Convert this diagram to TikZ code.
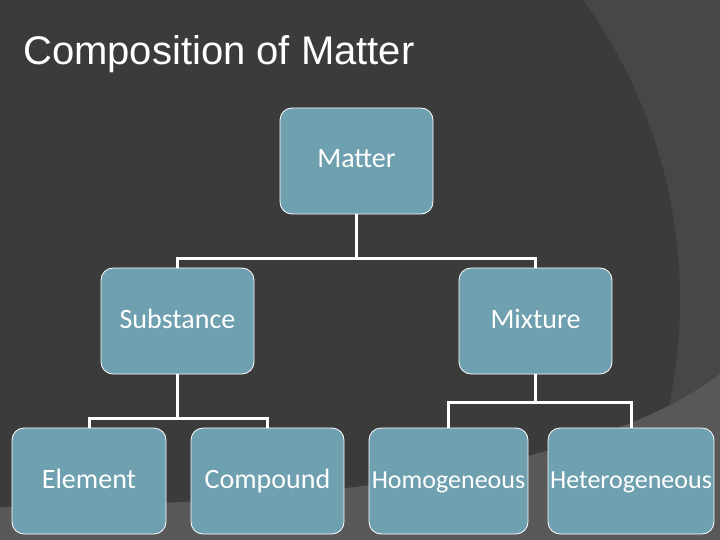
\documentclass[tikz,border=0pt]{standalone}
\usepackage{fontspec}
\setmainfont{Carlito}
\newfontfamily\titlefont{Liberation Sans}
\definecolor{bgdark}{RGB}{59,59,59}
\definecolor{bgmid}{RGB}{71,71,71}
\definecolor{bglight}{RGB}{88,88,88}
\definecolor{boxfill}{RGB}{111,160,175}
\tikzset{
  orgbox/.style={rectangle, rounded corners=12pt, draw=white, line width=0.8pt,
    fill=boxfill, text=white, inner sep=0pt, minimum height=106pt,
    text height=18pt, text depth=4pt,
    font=\fontsize{28}{32}\selectfont},
  smalltext/.style={font=\fontsize{26}{30}\selectfont, text height=17pt, text depth=3pt},
  link/.style={draw=white, line width=3pt}
}
\begin{document}
\begin{tikzpicture}[x=1pt,y=-1pt]
\useasboundingbox (0,0) rectangle (720,540);
\begin{scope}
\clip (0,0) rectangle (720,540);
\fill[bgmid] (0,0) rectangle (720,540);
\fill[bgdark] (168,300) circle (512);
\fill[bglight] (0,507) .. controls (400,505) and (620,450) .. (720,374) -- (720,540) -- (0,540) -- cycle;
\end{scope}

\node[anchor=base west, text=white, inner sep=0pt, font=\titlefont\fontsize{40}{48}\selectfont] (title) at (23,65) {Composition of Matter};

\node[orgbox, minimum width=153pt] (matter) at (356.5,161) {Matter};
\node[orgbox, minimum width=153pt] (subst) at (177.5,321) {Substance};
\node[orgbox, minimum width=153pt] (mixture) at (535.5,321) {Mixture};
\node[orgbox, minimum width=154pt] (element) at (89,481) {Element};
\node[orgbox, minimum width=153pt] (compound) at (267.5,481) {Compound};
\node[orgbox, smalltext, minimum width=159pt] (homog) at (448.5,481) {Homogeneous};
\node[orgbox, smalltext, minimum width=166pt] (heterog) at (631,481) {Heterogeneous};

\coordinate (j1) at (356.5,258);
\coordinate (j2) at (177.5,418);
\coordinate (j3) at (535.5,402);

\draw[link] (matter.south) -- (j1);
\draw[link] (subst.north) |- (j1) -| (mixture.north);
\draw[link] (subst.south) -- (j2);
\draw[link] (element.north) |- (j2) -| (compound.north);
\draw[link] (mixture.south) -- (j3);
\draw[link] (homog.north) |- (j3) -| (heterog.north);
\end{tikzpicture}
\end{document}
